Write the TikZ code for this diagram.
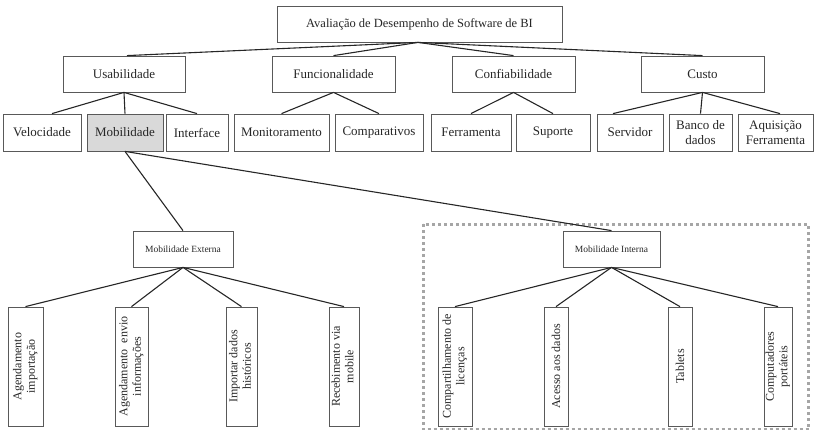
\documentclass[tikz,border=0pt]{standalone}
\usepackage{fontspec}
\setmainfont{Liberation Serif}
\usepackage{graphicx}
\begin{document}
\begin{tikzpicture}[x=1pt,y=-1pt,
  box/.style={draw=black!65, line width=0.8pt, text=black!85, inner sep=0pt,
    align=center, font=\fontsize{13}{14.5}\selectfont},
  rootbox/.style={box, font=\fontsize{12.5}{14}\selectfont},
  smallbox/.style={box, font=\fontsize{9.5}{11}\selectfont},
  vbox/.style={box, font=\fontsize{12}{13.5}\selectfont},
  link/.style={draw=black!85, line width=1.1pt},
  region/.style={draw=black!35, line width=3pt, dash pattern=on 3pt off 3pt}]
\useasboundingbox (0,0) rectangle (815,429);

% dotted frame around the internal mobility branch
\draw[region] (423,224) rectangle (808.5,429.5);

% root
\node[rootbox, minimum width=285pt, minimum height=36pt] (root) at (419.5,24) {Avaliação de Desempenho de Software de BI};

% criteria
\node[box, minimum width=122pt, minimum height=36pt] (usab) at (124,74) {Usabilidade};
\node[box, minimum width=123pt, minimum height=36pt] (func) at (333.5,74) {Funcionalidade};
\node[box, minimum width=123pt, minimum height=36pt] (conf) at (513.5,74) {Confiabilidade};
\node[box, minimum width=123pt, minimum height=36pt] (custo) at (702.5,74) {Custo};

% sub-criteria
\node[box, minimum width=78pt, minimum height=37pt] (vel) at (42,132.5) {Velocidade};
\node[box, fill=black!15, minimum width=76pt, minimum height=37pt] (mob) at (125,132.5) {Mobilidade};
\node[box, minimum width=62pt, minimum height=37pt] (intf) at (197,132.5) {Interface};
\node[box, minimum width=95pt, minimum height=37pt] (mon) at (281.5,132.5) {Monitoramento};
\node[box, minimum width=88pt, minimum height=37pt] (comp) at (379,132.5) {Comparativos};
\node[box, minimum width=80pt, minimum height=37pt] (ferr) at (471,132.5) {Ferramenta};
\node[box, minimum width=74pt, minimum height=37pt] (sup) at (553,132.5) {Suporte};
\node[box, minimum width=66pt, minimum height=37pt] (serv) at (630,132.5) {Servidor};
\node[box, minimum width=63pt, minimum height=37pt] (banco) at (700.5,132.5) {Banco de\\dados};
\node[box, minimum width=75pt, minimum height=37pt] (aquis) at (775.5,132.5) {Aquisição\\Ferramenta};

% mobility split
\node[smallbox, minimum width=100pt, minimum height=36pt] (mext) at (183,249) {Mobilidade Externa};
\node[smallbox, minimum width=97pt, minimum height=36pt] (mint) at (611.5,249) {Mobilidade Interna};

% leaves (vertical text)
\node[vbox, minimum width=35pt, minimum height=119pt] (a1) at (25.5,366.5) {\rotatebox{90}{\begin{tabular}{@{}c@{}}Agendamento\\importação\end{tabular}}};
\node[vbox, minimum width=33pt, minimum height=119pt] (a2) at (131.5,366.5) {\rotatebox{90}{\begin{tabular}{@{}c@{}}Agendamento\ \ envio\\informações\end{tabular}}};
\node[vbox, minimum width=31pt, minimum height=119pt] (a3) at (241.5,366.5) {\rotatebox{90}{\begin{tabular}{@{}c@{}}Importar dados\\históricos\end{tabular}}};
\node[vbox, minimum width=30pt, minimum height=119pt] (a4) at (344,366.5) {\rotatebox{90}{\begin{tabular}{@{}c@{}}Recebimento via\\mobile\end{tabular}}};
\node[vbox, minimum width=34pt, minimum height=119pt] (b1) at (455,366.5) {\rotatebox{90}{\begin{tabular}{@{}c@{}}Compartilhamento de\\licenças\end{tabular}}};
\node[vbox, minimum width=24pt, minimum height=119pt] (b2) at (556,366.5) {\rotatebox{90}{Acesso aos dados}};
\node[vbox, minimum width=24pt, minimum height=119pt] (b3) at (680,366.5) {\rotatebox{90}{Tablets}};
\node[vbox, minimum width=28pt, minimum height=119pt] (b4) at (778,366.5) {\rotatebox{90}{\begin{tabular}{@{}c@{}}Computadores\\portáteis\end{tabular}}};

% connectors
\path[link] ([xshift=-1.5pt]root.south) -- ([xshift=3pt]usab.north);
\path[link] ([xshift=-1.5pt]root.south) -- (func.north);
\path[link] ([xshift=-1.5pt]root.south) -- (conf.north);
\path[link] ([xshift=-1.5pt]root.south) -- (custo.north);

\path[link] (usab.south) -- ([xshift=10pt]vel.north);
\path[link] (usab.south) -- (mob.north);
\path[link] (usab.south) -- (intf.north);
\path[link] (func.south) -- (mon.north);
\path[link] (func.south) -- (comp.north);
\path[link] (conf.south) -- (ferr.north);
\path[link] (conf.south) -- (sup.north);
\path[link] (custo.south) -- ([xshift=-17pt]serv.north);
\path[link] (custo.south) -- (banco.north);
\path[link] (custo.south) -- ([xshift=4.5pt]aquis.north);

\path[link] (mob.south) -- (mext.north);
\path[link] (mob.south) -- (mint.north);

\path[link] (mext.south) -- (a1.north);
\path[link] (mext.south) -- (a2.north);
\path[link] (mext.south) -- (a3.north);
\path[link] (mext.south) -- (a4.north);
\path[link] (mint.south) -- (b1.north);
\path[link] (mint.south) -- (b2.north);
\path[link] (mint.south) -- (b3.north);
\path[link] (mint.south) -- (b4.north);
\end{tikzpicture}
\end{document}
